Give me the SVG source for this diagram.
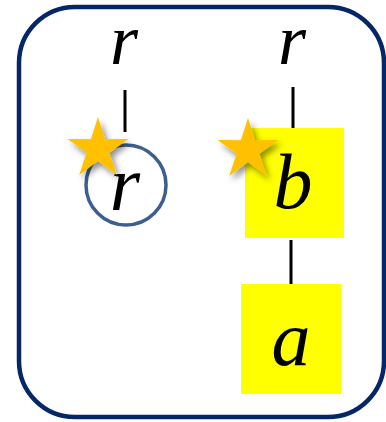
<svg xmlns="http://www.w3.org/2000/svg" width="386" height="422" viewBox="0 0 386 422">
<defs>
<style>
.lbl{font-family:"Liberation Serif","DejaVu Serif",serif;font-style:italic;font-size:78px;fill:#000;text-anchor:middle}
.top{font-size:72px}
.edge{stroke:#000;stroke-width:3;fill:none}
.box{fill:#ffff00}
.star{fill:#ffc000;filter:url(#sh)}
</style>
<filter id="sh" x="-50%" y="-50%" width="200%" height="200%">
<feDropShadow dx="3" dy="4" stdDeviation="3" flood-color="#000" flood-opacity="0.45"/>
</filter>
</defs>
<rect x="19" y="7" width="365" height="410" rx="56" ry="56" fill="#fff" stroke="#052667" stroke-width="4.5"/>
<g id="connectors">
<line class="edge" x1="125" y1="90" x2="125" y2="132"/>
<line class="edge" x1="293" y1="87" x2="293" y2="128"/>
<line class="edge" x1="291" y1="240" x2="291" y2="284"/>
</g>
<g id="r-left-top"><text class="lbl top" x="124" y="64">r</text></g>
<g id="r-right-top"><text class="lbl top" x="292" y="64">r</text></g>
<g id="r-circle">
<circle cx="126" cy="185" r="40" fill="#fff" stroke="#3d5f8f" stroke-width="3.5"/>
<text class="lbl" x="125" y="210">r</text>
</g>
<g id="b-node">
<rect class="box" x="245" y="128" width="99" height="110"/>
<text class="lbl" x="293" y="208">b</text>
</g>
<g id="a-node">
<rect class="box" x="241" y="284" width="100" height="110"/>
<text class="lbl" x="291" y="365">a</text>
</g>
<g id="star-left">
<polygon class="star" points="98,117 105.1,139.3 128.4,139.1 109.4,152.7 116.8,175 98,161.1 79.2,175 86.6,152.7 67.6,139.1 90.9,139.3"/>
</g>
<g id="star-right">
<polygon class="star" points="248,118 255.1,140.3 278.4,140.1 259.4,153.7 266.8,176 248,162.1 229.2,176 236.6,153.7 217.6,140.1 240.9,140.3"/>
</g>
</svg>
